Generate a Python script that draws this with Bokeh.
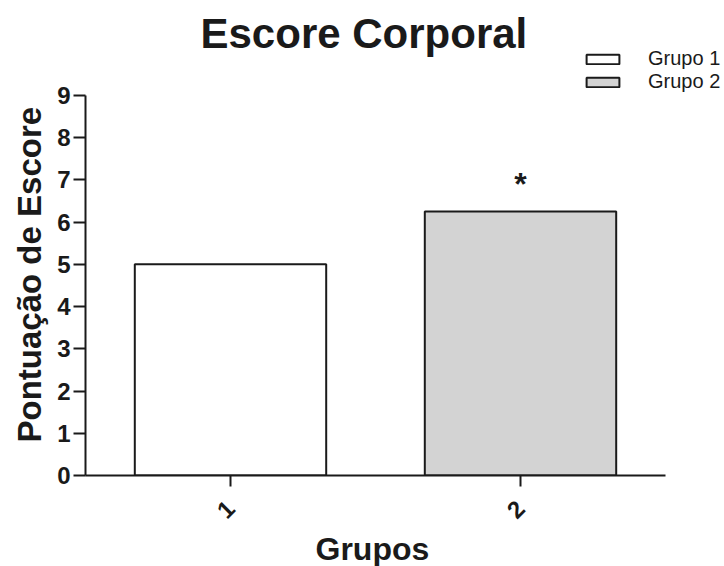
import math
from bokeh.plotting import figure
from bokeh.models import ColumnDataSource, Range1d, FixedTicker, Legend, LegendItem, Label, Title
from bokeh.embed import file_html
from bokeh.resources import INLINE
from bokeh.core.properties import value

# ---- data ----
groups = ["1", "2"]
series_names = ["Grupo 1", "Grupo 2"]
scores = [5.0, 6.25]
colors = ["#ffffff", "#d3d3d3"]
sig_group_index = [1]
sig_marks = ["*"]
y_ticks = [0, 1, 2, 3, 4, 5, 6, 7, 8, 9]
y_max = 9
title_text = "Escore Corporal"
x_label = "Grupos"
y_label = "Pontuação de Escore"

FONT = "Liberation Sans"
INK = "#1a1a1a"

# layout (pixels)
W, H = 724, 566
LEFT, BOTTOM = 85, 90
AX_W = 580          # pixel length of the x axis
AX_H = 381          # pixel length of the y axis
frame_w = W - LEFT
frame_h = H - BOTTOM

x_pos = [i + 0.5 for i in range(len(groups))]
n_cat = len(groups)

p = figure(
    width=W, height=H,
    x_range=Range1d(0, n_cat * frame_w / AX_W),
    y_range=Range1d(0, y_max * frame_h / AX_H),
    output_backend="svg", toolbar_location=None,
    min_border_left=LEFT, min_border_right=0,
    min_border_top=0, min_border_bottom=BOTTOM,
)
p.title = None
p.outline_line_color = None
p.xgrid.grid_line_color = None
p.ygrid.grid_line_color = None
p.background_fill_color = "white"
p.border_fill_color = "white"

src = ColumnDataSource(dict(x=x_pos, top=scores, color=colors, name=series_names))
bars = p.vbar(x="x", top="top", width=0.66, source=src, fill_color="color",
              line_color=INK, line_width=2)

sig = ColumnDataSource(dict(x=[x_pos[i] for i in sig_group_index],
                            y=[scores[i] for i in sig_group_index], t=sig_marks))
p.text(x="x", y="y", text="t", source=sig, y_offset=-27,
       text_align="center", text_baseline="alphabetic",
       text_font=value(FONT), text_font_size="32px", text_font_style="bold",
       text_color=INK)

# chart title
p.add_layout(Label(x=200 - LEFT, y=frame_h - 34, x_units="screen", y_units="screen",
                   text=title_text, text_font=FONT, text_font_size="42px",
                   text_font_style="bold", text_color=INK,
                   text_align="left", text_baseline="alphabetic"))

# axes
for ax in (p.xaxis[0], p.yaxis[0]):
    ax.axis_line_width = 2
    ax.axis_line_color = INK
    ax.major_tick_line_width = 2
    ax.major_tick_line_color = INK
    ax.major_tick_in = 0
    ax.minor_tick_line_color = None
    ax.major_label_text_font = FONT
    ax.major_label_text_font_size = "24px"
    ax.major_label_text_font_style = "bold"
    ax.major_label_text_color = INK

p.yaxis.ticker = FixedTicker(ticks=y_ticks)
p.yaxis.bounds = (0, y_max)
p.yaxis.major_tick_out = 12
p.yaxis.major_label_standoff = 3

p.xaxis.ticker = FixedTicker(ticks=x_pos)
p.xaxis.major_label_overrides = {x: g for x, g in zip(x_pos, groups)}
p.xaxis.bounds = (0, n_cat)
p.xaxis.major_tick_out = 11
p.xaxis.major_label_orientation = math.pi / 4
p.xaxis.major_label_standoff = 18

# axis titles, aligned along the drawn axis lines
p.add_layout(Title(text=y_label, align="left", offset=33, standoff=13,
                   text_font=FONT, text_font_size="33px", text_font_style="bold",
                   text_color=INK), "left")
p.add_layout(Title(text=x_label, align="left", offset=230, standoff=0,
                   text_font=FONT, text_font_size="32px", text_font_style="bold",
                   text_color=INK), "below")

# legend
items = [LegendItem(label=series_names[i], renderers=[bars], index=i) for i in range(len(series_names))]
lg = Legend(items=items, location=(582 - LEFT, frame_h - 94))
lg.label_standoff = 25
lg.glyph_width = 41
lg.glyph_height = 12
lg.padding = 0
lg.margin = 0
lg.spacing = 0
lg.label_height = 20
lg.border_line_alpha = 0
lg.background_fill_alpha = 0
lg.label_text_font = FONT
lg.label_text_font_size = "20px"
lg.label_text_color = INK
p.add_layout(lg, "center")

open("out.html", "w").write(file_html(p, INLINE))
